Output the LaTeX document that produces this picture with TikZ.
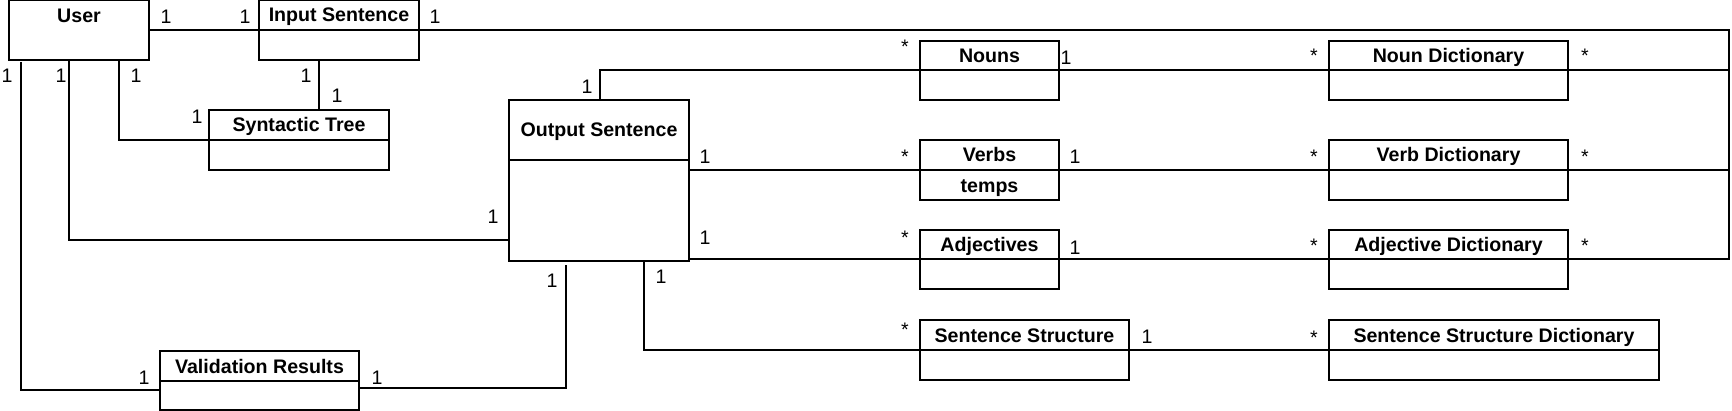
\documentclass[tikz,border=0pt]{standalone}
\usepackage{fontspec}
\setmainfont{Liberation Sans}
\newcommand\umlbox[8]{%
  \node[box, minimum width=#4*0.5pt, minimum height=#5*0.5pt, anchor=north west] (#1) at (#2,#3) {#7};
  \node[box, minimum width=#4*0.5pt, minimum height=#6*0.5pt, anchor=north west] (#1b) at (#1.south west) {#8};}
\newcommand\mlab[4]{\node[lab] (#1) at (#2,#3) {#4};}
\begin{document}
\begin{tikzpicture}[x=0.5pt,y=-0.5pt,
  box/.style={draw, line width=0.6pt, rectangle, inner sep=0pt, outer sep=0pt, text height=7pt, text depth=0pt, font=\bfseries\fontsize{9.8}{11}\selectfont},
  conn/.style={line width=0.6pt},
  lab/.style={anchor=base, inner sep=0pt, font=\fontsize{9.8}{11}\selectfont}]
\useasboundingbox (0,0) rectangle (1732,411);

% User (no divider)
\node[box, minimum width=140*0.5pt, minimum height=60*0.5pt, anchor=north west] (user) at (9,0) {};
\node[inner sep=0pt, text height=7pt, text depth=0pt, font=\bfseries\fontsize{9.8}{11}\selectfont] (usert) at (79,16) {User};

\umlbox{input}{259}{0}{160}{30}{30}{Input Sentence}{}
\umlbox{syn}{209}{110}{180}{30}{30}{Syntactic Tree}{}
\umlbox{val}{160}{351}{199}{30}{29}{Validation Results}{}
\umlbox{out}{509}{100}{180}{60}{101}{Output Sentence}{}
\umlbox{nouns}{920}{41}{139}{29}{30}{Nouns}{}
\umlbox{nounD}{1329}{41}{239}{29}{30}{Noun Dictionary}{}
\umlbox{verbs}{920}{140}{139}{30}{30}{Verbs}{temps}
\umlbox{verbD}{1329}{140}{239}{30}{30}{Verb Dictionary}{}
\umlbox{adj}{920}{230}{139}{29}{30}{Adjectives}{}
\umlbox{adjD}{1329}{230}{239}{29}{30}{Adjective Dictionary}{}
\umlbox{ss}{920}{320}{209}{30}{30}{Sentence Structure}{}
\umlbox{ssD}{1329}{320}{330}{30}{30}{Sentence Structure Dictionary}{}

% coordinates
\coordinate (rtop) at (1729,30);
\path (inputb.south west) ++(60,0) coordinate (isA);
\path (user.south west) ++(110,0) coordinate (uA);
\path (user.south west) ++(60,0) coordinate (uB);
\coordinate (uC) at (21,62);
\path (outb.south west) ++(0,-21) coordinate (oL);
\path (valb.north west) ++(0,9) coordinate (vL);
\path (valb.north east) ++(0,7) coordinate (vR);
\coordinate (oB) at (566,265);
\path (out.north west) ++(91,0) coordinate (oT);
\path (outb.south west) ++(135,0) coordinate (oBt);

% connectors
\draw[conn] (user.east) -- (input.south west);
\draw[conn] (input.south east) -- (rtop) -- (rtop |- adjD.south east) -- (adjD.south east);
\draw[conn] (nounD.south east) -- (nounD.south east -| rtop);
\draw[conn] (verbD.south east) -- (verbD.south east -| rtop);
\draw[conn] (isA) -- (isA |- syn.north);
\draw[conn] (uA) |- (syn.south west);
\draw[conn] (uB) |- (oL);
\draw[conn] (uC) |- (vL);
\draw[conn] (vR) -| (oB);
\draw[conn] (oT) |- (nouns.south west);
\draw[conn] (outb.east |- verbs.south west) -- (verbs.south west);
\draw[conn] (outb.east |- adj.south west) -- (adj.south west);
\draw[conn] (oBt) |- (ss.south west);
\draw[conn] (nouns.south east) -- (nounD.south west);
\draw[conn] (verbs.south east) -- (verbD.south west);
\draw[conn] (adj.south east) -- (adjD.south west);
\draw[conn] (ss.south east) -- (ssD.south west);

% multiplicities
\mlab{a1}{166}{24}{1}
\mlab{a2}{245}{24}{1}
\mlab{a3}{435}{24}{1}
\mlab{a4}{7}{83}{1}
\mlab{a5}{61}{83}{1}
\mlab{a6}{136}{83}{1}
\mlab{a7}{306}{83}{1}
\mlab{a8}{337}{103}{1}
\mlab{a9}{197}{124}{1}
\mlab{a10}{493}{223}{1}
\mlab{a11}{144}{384}{1}
\mlab{a12}{377}{384}{1}
\mlab{a13}{552}{287}{1}
\mlab{a14}{661}{283}{1}
\mlab{a15}{587}{94}{1}
\mlab{a16}{905}{54}{*}
\mlab{a17}{1066}{65}{1}
\mlab{a18}{1314}{63}{*}
\mlab{a19}{1585}{63}{*}
\mlab{a20}{705}{164}{1}
\mlab{a21}{905}{164}{*}
\mlab{a22}{1075}{164}{1}
\mlab{a23}{1314}{164}{*}
\mlab{a24}{1585}{164}{*}
\mlab{a25}{705}{244}{1}
\mlab{a26}{905}{244}{*}
\mlab{a27}{1075}{254}{1}
\mlab{a28}{1314}{252}{*}
\mlab{a29}{1585}{252}{*}
\mlab{a30}{905}{336}{*}
\mlab{a31}{1147}{343}{1}
\mlab{a32}{1314}{344}{*}
\end{tikzpicture}
\end{document}
